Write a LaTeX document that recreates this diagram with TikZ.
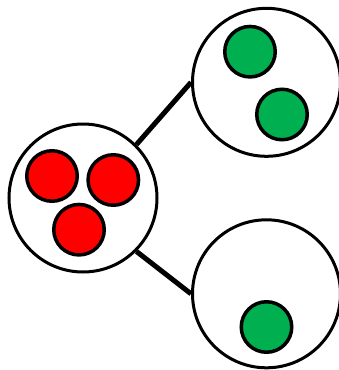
\documentclass[tikz,border=0pt]{standalone}
\definecolor{pptgreen}{HTML}{00B050}
\tikzset{
  bigcirc/.style={circle,draw=black,fill=white,line width=3pt,minimum size=148pt,inner sep=0pt},
  redball/.style={circle,draw=black,fill=red,line width=3.5pt,minimum size=50.5pt,inner sep=0pt},
  greenball/.style={circle,draw=black,fill=pptgreen,line width=3.5pt,minimum size=50.5pt,inner sep=0pt},
  link/.style={line width=5pt,draw=black}
}
\begin{document}
\begin{tikzpicture}[x=1pt,y=-1pt]
\useasboundingbox (0,0) rectangle (338,370);
\node[bigcirc] (L) at (83,198) {};
\node[bigcirc] (T) at (266.5,82.3) {};
\node[bigcirc] (B) at (266.5,293.8) {};
\draw[link] (L.45) -- (T.west);
\draw[link] (L.-45) -- (B.west);
\node[redball] (r1) at (52,176) {};
\node[redball] (r2) at (113.3,180) {};
\node[redball] (r3) at (79,229.7) {};
\node[greenball] (g1) at (250,51.7) {};
\node[greenball] (g2) at (282,114.5) {};
\node[greenball] (g3) at (266.5,327) {};
\end{tikzpicture}
\end{document}
